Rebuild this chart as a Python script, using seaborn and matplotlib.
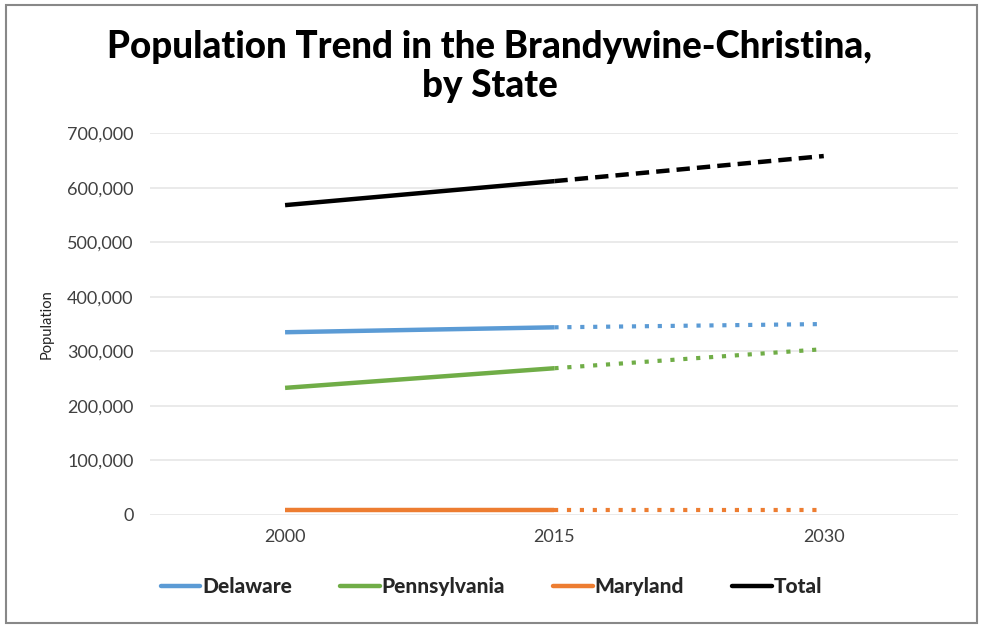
import matplotlib
matplotlib.use("Agg")
import matplotlib.pyplot as plt
from matplotlib.patches import Rectangle
from matplotlib.lines import Line2D
from matplotlib.ticker import FuncFormatter
import seaborn as sns
import pandas as pd

# Population by state: observed 2000-2015, projected 2015-2030
years = [2000, 2015, 2030]
states = ["Delaware", "Pennsylvania", "Maryland", "Total"]
delaware = [335000, 344000, 350000]
pennsylvania = [233000, 269000, 304000]
maryland = [9000, 9000, 9000]
total = [568000, 612000, 658000]
yticks = [0, 100000, 200000, 300000, 400000, 500000, 600000, 700000]

colors = {"Delaware": "#5b9bd5", "Pennsylvania": "#70ad47",
          "Maryland": "#ed7d31", "Total": "#000000"}

sns.set_theme(style="white")
plt.rcParams["font.family"] = ["Lato", "DejaVu Sans"]

rows = []
for name, vals in zip(states, [delaware, pennsylvania, maryland, total]):
    for yr, v in zip(years, vals):
        rows.append({"state": name, "year": yr, "population": v})
df = pd.DataFrame(rows)

fig = plt.figure(figsize=(9.83, 6.28), dpi=100)
ax = fig.add_axes([0.153, 0.180, 0.822, 0.608])

for name in states:
    d = df[df.state == name]
    observed = d[d.year <= 2015]
    projected = d[d.year >= 2015]
    sns.lineplot(data=observed, x="year", y="population", ax=ax,
                 color=colors[name], lw=3.2, solid_capstyle="butt")
    if name == "Total":
        sns.lineplot(data=projected, x="year", y="population", ax=ax,
                     color=colors[name], lw=3.2, linestyle=(0, (3, 1.6)),
                     dash_capstyle="butt")
    else:
        sns.lineplot(data=projected, x="year", y="population", ax=ax,
                     color=colors[name], lw=3.0, linestyle=(0, (1, 2.1)),
                     dash_capstyle="butt")

ax.set_xlim(1992.5, 2037.5)
ax.set_ylim(0, 700000)
ax.set_xticks(years)
ax.set_yticks(yticks)
ax.yaxis.set_major_formatter(FuncFormatter(lambda v, p: f"{int(v):,}"))
ax.grid(axis="y", color="#e6e6e6", lw=1.2)
ax.set_axisbelow(True)
for s in ax.spines.values():
    s.set_visible(False)
ax.tick_params(axis="both", labelsize=13, colors="#404040", length=0)
ax.tick_params(axis="y", pad=12)
ax.tick_params(axis="x", pad=10)
ax.set_xlabel("")
ax.set_ylabel("Population", fontsize=10.5, color="#222222", labelpad=10)

fig.suptitle("Population Trend in the Brandywine-Christina,\nby State",
             x=0.498, y=0.953, fontsize=26.5, fontweight="black",
             color="#000000", linespacing=1.2)

handles = [Line2D([0], [0], color=colors[n], lw=3.2) for n in states]
leg = fig.legend(handles, states, loc="center", bbox_to_anchor=(0.5, 0.066),
                 ncol=4, frameon=False, handlelength=1.9, handletextpad=0.1,
                 columnspacing=2.3, prop={"weight": "black", "size": 15})

fig.patches.append(Rectangle((0.006, 0.008), 0.988, 0.984, transform=fig.transFigure,
                             fill=False, edgecolor="#888888", lw=1.5))

fig.savefig("out.png", dpi=100)
